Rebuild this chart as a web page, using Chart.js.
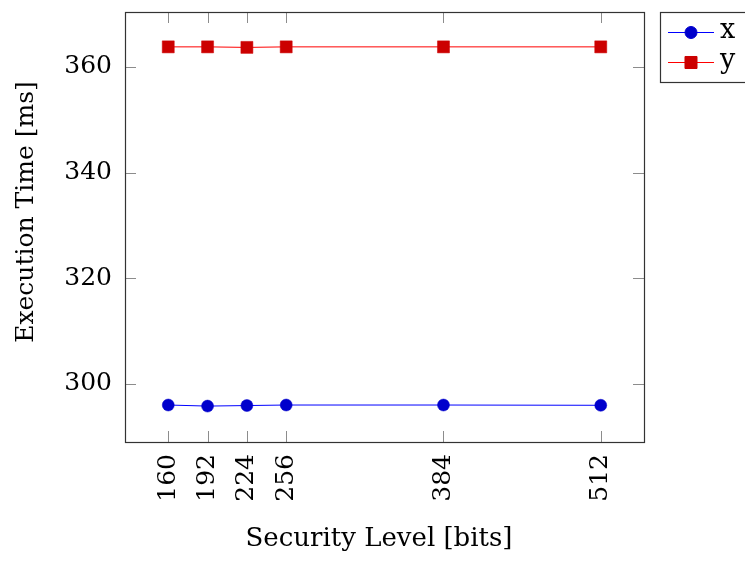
<!DOCTYPE html>
<html>
<head>
<meta charset="utf-8">
<script src="https://cdn.jsdelivr.net/npm/chart.js@4/dist/chart.umd.min.js"></script>
<style>
  html, body { margin: 0; padding: 0; background: #ffffff; }
  #wrap { width: 745px; height: 561px; }
</style>
</head>
<body>
<div id="wrap"><canvas id="c" width="745" height="561"></canvas></div>
<script>
// Execution time vs. security level for the two operations
const securityLevels = [160, 192, 224, 256, 384, 512];
const seriesX = [296.0, 295.8, 295.9, 296.0, 296.0, 295.95];
const seriesY = [363.8, 363.8, 363.7, 363.8, 363.8, 363.8];
const yTickValues = [300, 320, 340, 360];
const seriesNames = ['x', 'y'];
const xAxisTitle = 'Security Level [bits]';
const yAxisTitle = 'Execution Time [ms]';

const FONT_FAMILY = '"DejaVu Serif", "Liberation Serif", serif';
const FONT_SIZE = 25;

// frame, inner tick marks, axis titles and the outside legend
const framePlugin = {
  id: 'frameAndLegend',
  afterDraw(chart) {
    const { ctx, chartArea: a, scales } = chart;
    const xs = scales.x, ys = scales.y;
    const tickLen = 11;
    ctx.save();

    // inner tick marks on all four sides
    ctx.strokeStyle = '#8c8c8c';
    ctx.lineWidth = 1;
    ctx.beginPath();
    for (const v of securityLevels) {
      const px = Math.round(xs.getPixelForValue(v)) + 0.5;
      ctx.moveTo(px, a.bottom); ctx.lineTo(px, a.bottom - tickLen);
      ctx.moveTo(px, a.top); ctx.lineTo(px, a.top + tickLen);
    }
    for (const v of yTickValues) {
      const py = Math.round(ys.getPixelForValue(v)) + 0.5;
      ctx.moveTo(a.left, py); ctx.lineTo(a.left + tickLen, py);
      ctx.moveTo(a.right, py); ctx.lineTo(a.right - tickLen, py);
    }
    ctx.stroke();

    // plot frame
    ctx.strokeStyle = '#333333';
    ctx.lineWidth = 1.2;
    ctx.strokeRect(a.left + 0.5, a.top + 0.5, a.right - a.left, a.bottom - a.top);

    // axis titles
    ctx.fillStyle = '#000000';
    ctx.textAlign = 'center';
    ctx.textBaseline = 'alphabetic';
    ctx.font = '26px ' + FONT_FAMILY;
    ctx.fillText(xAxisTitle, 379, 546);
    ctx.font = FONT_SIZE + 'px ' + FONT_FAMILY;
    ctx.save();
    ctx.translate(33, 212);
    ctx.rotate(-Math.PI / 2);
    ctx.fillText(yAxisTitle, 0, 0);
    ctx.restore();

    // legend box outside the plot on the right
    const box = { left: 660, top: 12, right: 760, bottom: 82 };
    ctx.strokeStyle = '#333333';
    ctx.lineWidth = 1.2;
    ctx.strokeRect(box.left + 0.5, box.top + 0.5, box.right - box.left, box.bottom - box.top);
    const rows = [32, 62];
    chart.data.datasets.forEach((ds, i) => {
      const yRow = rows[i];
      ctx.strokeStyle = ds.borderColor;
      ctx.lineWidth = 1;
      ctx.beginPath();
      ctx.moveTo(668, yRow + 0.5);
      ctx.lineTo(714, yRow + 0.5);
      ctx.stroke();
      ctx.fillStyle = ds.pointBackgroundColor;
      ctx.strokeStyle = ds.pointBorderColor;
      Chart.helpers.drawPoint(ctx, {
        pointStyle: ds.pointStyle,
        radius: ds.pointRadius,
        rotation: 0,
        borderWidth: ds.pointBorderWidth
      }, 691, yRow + 0.5);
      ctx.fillStyle = '#000000';
      ctx.textAlign = 'left';
      ctx.textBaseline = 'alphabetic';
      ctx.font = '27px ' + FONT_FAMILY;
      ctx.fillText(seriesNames[i], 720, yRow + 6);
    });

    ctx.restore();
  }
};

const toPoints = (vals) => vals.map((v, i) => ({ x: securityLevels[i], y: v }));

new Chart(document.getElementById('c'), {
  type: 'line',
  data: {
    datasets: [
      {
        label: seriesNames[0],
        data: toPoints(seriesX),
        borderColor: '#0000ff',
        borderWidth: 1,
        pointStyle: 'circle',
        pointRadius: 6,
        pointBackgroundColor: '#0000cc',
        pointBorderColor: '#0000cc',
        pointBorderWidth: 0.5,
        tension: 0,
        fill: false
      },
      {
        label: seriesNames[1],
        data: toPoints(seriesY),
        borderColor: '#ff0000',
        borderWidth: 1,
        pointStyle: 'rect',
        pointRadius: 8.5,
        pointBackgroundColor: '#cc0000',
        pointBorderColor: '#cc0000',
        pointBorderWidth: 0.5,
        tension: 0,
        fill: false
      }
    ]
  },
  options: {
    responsive: false,
    animation: false,
    devicePixelRatio: 1,
    layout: { padding: { top: 12, right: 101, bottom: 0, left: 0 } },
    plugins: {
      legend: { display: false },
      tooltip: { enabled: false }
    },
    scales: {
      x: {
        type: 'linear',
        min: 124.8,
        max: 547.2,
        grid: { display: false, drawTicks: false },
        border: { display: false },
        afterBuildTicks: (s) => { s.ticks = securityLevels.map(v => ({ value: v })); },
        afterFit: (s) => { s.height = 119; s.paddingLeft = 0; s.paddingRight = 0; },
        ticks: {
          minRotation: 90,
          maxRotation: 90,
          autoSkip: false,
          padding: 12,
          color: '#000000',
          font: { family: FONT_FAMILY, size: FONT_SIZE },
          callback: (v) => String(v)
        }
      },
      y: {
        type: 'linear',
        min: 289.0,
        max: 370.4,
        grid: { display: false, drawTicks: false },
        border: { display: false },
        afterBuildTicks: (s) => { s.ticks = yTickValues.map(v => ({ value: v })); },
        afterFit: (s) => { s.width = 125; s.paddingTop = 0; s.paddingBottom = 0; },
        ticks: {
          padding: 13,
          color: '#000000',
          font: { family: FONT_FAMILY, size: FONT_SIZE },
          callback: (v) => String(v)
        }
      }
    }
  },
  plugins: [framePlugin]
});
</script>
</body>
</html>
